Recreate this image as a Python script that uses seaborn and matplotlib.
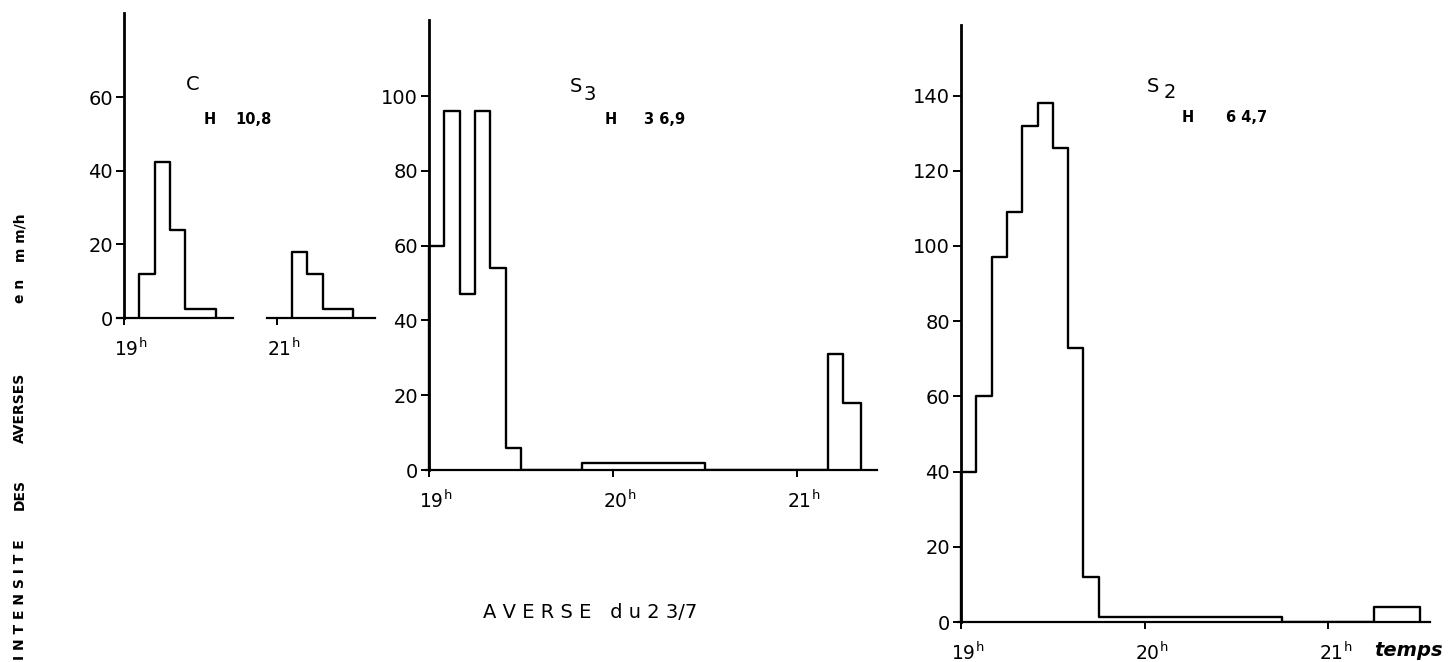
import numpy as np
import pandas as pd
import matplotlib
matplotlib.use("Agg")
import matplotlib.pyplot as plt
import matplotlib.transforms as mtransforms
import seaborn as sns

# ---------------- data (time in minutes after 19h00, intensity in mm/h) -------------
c_edges_a = [5, 10, 15, 20, 30]
c_mmh_a = [12, 42.5, 24, 2.5]
c_edges_b = [125, 130, 135, 145]
c_mmh_b = [18, 12, 2.5]
s3_edges = [0, 5, 10, 15, 20, 25, 30, 50, 90, 130, 135, 141]
s3_mmh = [60, 96, 47, 96, 54, 6, 0, 2, 0, 31, 18]
s2_edges = [0, 5, 10, 15, 20, 25, 30, 35, 40, 45, 105, 135, 150]
s2_mmh = [40, 60, 97, 109, 132, 138, 126, 73, 12, 1.3, 0, 4]

c_yticks = [0, 20, 40, 60]
s3_yticks = [0, 20, 40, 60, 80, 100]
s2_yticks = [0, 20, 40, 60, 80, 100, 120, 140]
hour_pos = [0, 60, 120]
hour_labels = ["19$^{\\mathrm{h}}$", "20$^{\\mathrm{h}}$", "21$^{\\mathrm{h}}$"]

# ---------------- figure --------------------------------------------------------------
sns.set_style("ticks", rc={"axes.edgecolor": "black", "xtick.color": "black",
                           "ytick.color": "black", "text.color": "black",
                           "axes.labelcolor": "black"})
plt.rcParams["font.family"] = ["DejaVu Sans"]
plt.rcParams["mathtext.default"] = "regular"

W, H = 1448, 662
fig = plt.figure(figsize=(W / 100, H / 100), dpi=100)
fig.patch.set_facecolor("white")


def add_ax(x0, x1, ytop, ybot):
    return fig.add_axes([x0 / W, 1 - ybot / H, (x1 - x0) / W, (ybot - ytop) / H])


def step_frame(edges, vals):
    xs = [edges[0]] + list(edges[:-1]) + [edges[-1]]
    ys = [0] + list(vals) + [0]
    return pd.DataFrame({"t": xs, "mmh": ys})


def draw(ax, edges, vals):
    sns.lineplot(data=step_frame(edges, vals), x="t", y="mmh", ax=ax,
                 estimator=None, sort=False, drawstyle="steps-post",
                 color="black", linewidth=1.7)
    ax.set_xlabel("")
    ax.set_ylabel("")


def style(ax, xlim, ylim, yticks, xticks, xlabels, left=True):
    ax.set_facecolor("none")
    ax.set_xlim(*xlim)
    ax.set_ylim(*ylim)
    for s in ("top", "right"):
        ax.spines[s].set_visible(False)
    ax.spines["bottom"].set_linewidth(1.6)
    ax.spines["bottom"].set_color("black")
    ax.spines["left"].set_linewidth(2.0)
    ax.spines["left"].set_color("black")
    ax.spines["left"].set_position(("data", 0 if left else xlim[0]))
    if left:
        ax.set_yticks(yticks)
        ax.set_yticklabels([str(v) for v in yticks])
        ax.tick_params(axis="y", direction="out", length=6, width=1.4,
                       pad=2, labelsize=14, colors="black")
    else:
        ax.spines["left"].set_visible(False)
        ax.set_yticks([])
    ax.set_xticks(xticks)
    ax.set_xticklabels(xlabels)
    ax.tick_params(axis="x", direction="out", length=5, width=1.4,
                   pad=9, labelsize=13.5, colors="black")
    off = mtransforms.ScaledTranslation(5 / 72, 0, fig.dpi_scale_trans)
    for lab in ax.get_xticklabels():
        lab.set_transform(lab.get_transform() + off)


# C (broken time axis)
pxm = 3.067  # px per minute
ax_c1 = add_ax(117, 233, 13, 318)
draw(ax_c1, c_edges_a, c_mmh_a)
style(ax_c1, ((117 - 124) / pxm, (233 - 124) / pxm), (0, 305 / 3.68),
      c_yticks, [hour_pos[0]], [hour_labels[0]])

ax_c2 = add_ax(267, 375, 13, 318)
draw(ax_c2, c_edges_b, c_mmh_b)
style(ax_c2, (120 + (267 - 276.7) / pxm, 120 + (375 - 276.7) / pxm), (0, 305 / 3.68),
      c_yticks, [hour_pos[2]], [hour_labels[2]], left=False)

# S3
ax_s3 = add_ax(426, 877, 20, 470)
draw(ax_s3, s3_edges, s3_mmh)
style(ax_s3, (-1, (877 - 429) / pxm), (0, 450 / 3.74),
      s3_yticks, hour_pos, hour_labels)

# S2
ax_s2 = add_ax(958, 1430, 25, 622)
draw(ax_s2, s2_edges, s2_mmh)
style(ax_s2, (-1, (1430 - 961) / 3.06), (0, 597 / 3.76),
      s2_yticks, hour_pos, hour_labels)


def ftext(x, y, s, **kw):
    fig.text(x / W, 1 - y / H, s, ha="center", va="center", color="black", **kw)


# panel titles
ftext(193, 85, "C", fontsize=14)
ftext(210, 120, "H", fontsize=10.5, fontweight="bold")
ftext(253, 120, "10,8", fontsize=10.5, fontweight="bold")

ftext(576, 87, "S", fontsize=14)
ftext(590, 94, "3", fontsize=14)
ftext(611, 119, "H", fontsize=10.5, fontweight="bold")
ftext(665, 119, "3 6,9", fontsize=10.5, fontweight="bold")

ftext(1153, 86, "S", fontsize=14)
ftext(1170, 93, "2", fontsize=14)
ftext(1188, 118, "H", fontsize=10.5, fontweight="bold")
ftext(1247, 118, "6 4,7", fontsize=10.5, fontweight="bold")

ftext(590, 613, "A V E R S E   d u 2 3/7", fontsize=14)
ftext(1408, 651, "temps", fontsize=14, fontweight="bold", fontstyle="italic")

# vertical axis title
for s, yc in [("m m/h", 238), ("e n", 291), ("AVERSES", 408), ("DES", 494),
              ("I N T E N S I T E", 600)]:
    ftext(20, yc, s, fontsize=10, fontweight="bold", rotation=90)

fig.savefig("out.png", dpi=100, facecolor="white")
